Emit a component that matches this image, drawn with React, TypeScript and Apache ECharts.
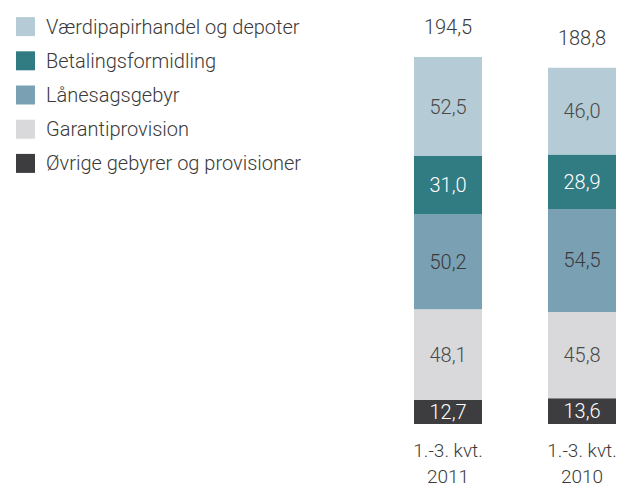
import React, { useEffect, useRef } from "react";
import * as echarts from "echarts";

const categories = ["1.-3. kvt.\n2011", "1.-3. kvt.\n2010"];
const oevrige = [12.7, 13.6];
const garanti = [48.1, 45.8];
const laanesag = [50.2, 54.5];
const betaling = [31.0, 28.9];
const vaerdipapir = [52.5, 46.0];
const totals = [194.5, 188.8];

const names = [
  "Værdipapirhandel og depoter",
  "Betalingsformidling",
  "Lånesagsgebyr",
  "Garantiprovision",
  "Øvrige gebyrer og provisioner",
];

const fmt = (v: number) => v.toFixed(1).replace(".", ",");
const FONT = "Roboto";

export default function App() {
  const ref = useRef<HTMLDivElement>(null);
  useEffect(() => {
    if (!ref.current) return;
    const chart = echarts.init(ref.current, null, { renderer: "svg" });
    const mk = (name: string, data: number[], color: string, textColor: string) => ({
      name,
      type: "bar",
      stack: "s",
      data,
      barWidth: 68,
      itemStyle: { color },
      label: {
        show: true,
        position: "inside",
        formatter: (p: any) => fmt(p.value),
        color: textColor,
        fontSize: 20,
        fontFamily: FONT,
        fontWeight: 300,
      },
      emphasis: { disabled: true },
    });
    chart.setOption({
      animation: false,
      grid: {
        left: 448,
        top: 46.6,
        width: 134,
        height: 377.4,
        outerBoundsMode: "none",
        containLabel: false,
      },
      legend: {
        orient: "vertical",
        left: 11,
        top: 11.6,
        itemWidth: 19,
        itemHeight: 19,
        itemGap: 14.2,
        icon: "rect",
        data: names,
        selectedMode: false,
        textStyle: {
          fontSize: 20,
          fontFamily: FONT,
          fontWeight: 300,
          color: "#3a3a3a",
          padding: [0, 0, 0, 6],
        },
      },
      xAxis: {
        type: "category",
        data: categories,
        boundaryGap: false,
        axisLine: { show: false },
        axisTick: { show: false },
        axisLabel: {
          margin: 8,
          formatter: (v: string) => {
            const [a, b] = v.split("\n");
            return `{a|${a}}\n{b|${b}}`;
          },
          rich: {
            a: { fontSize: 19, lineHeight: 36, fontFamily: FONT, fontWeight: 300, color: "#3a3a3a" },
            b: { fontSize: 19, lineHeight: 16, fontFamily: FONT, fontWeight: 300, color: "#3a3a3a" },
          },
        },
      },
      yAxis: {
        type: "value",
        min: 0,
        max: 200,
        show: false,
        splitLine: { show: false },
      },
      series: [
        mk(names[4], oevrige, "#3d3d3f", "#ffffff"),
        mk(names[3], garanti, "#d9d9db", "#4a4a4a"),
        mk(names[2], laanesag, "#7aa0b4", "#3a3a3a"),
        mk(names[1], betaling, "#317b82", "#ffffff"),
        mk(names[0], vaerdipapir, "#b5cbd6", "#4a4a4a"),
        {
          name: "total",
          type: "bar",
          stack: "s",
          data: [0, 0],
          barWidth: 68,
          itemStyle: { color: "transparent" },
          label: {
            show: true,
            position: "top",
            distance: 20,
            formatter: (p: any) => fmt(totals[p.dataIndex]),
            color: "#3a3a3a",
            fontSize: 20,
            fontFamily: FONT,
            fontWeight: 300,
          },
          emphasis: { disabled: true },
        },
      ],
    });
    return () => chart.dispose();
  }, []);
  return (
    <div
      ref={ref}
      style={{ position: "absolute", left: 0, top: 0, width: 617, height: 488, background: "#fff" }}
    />
  );
}
